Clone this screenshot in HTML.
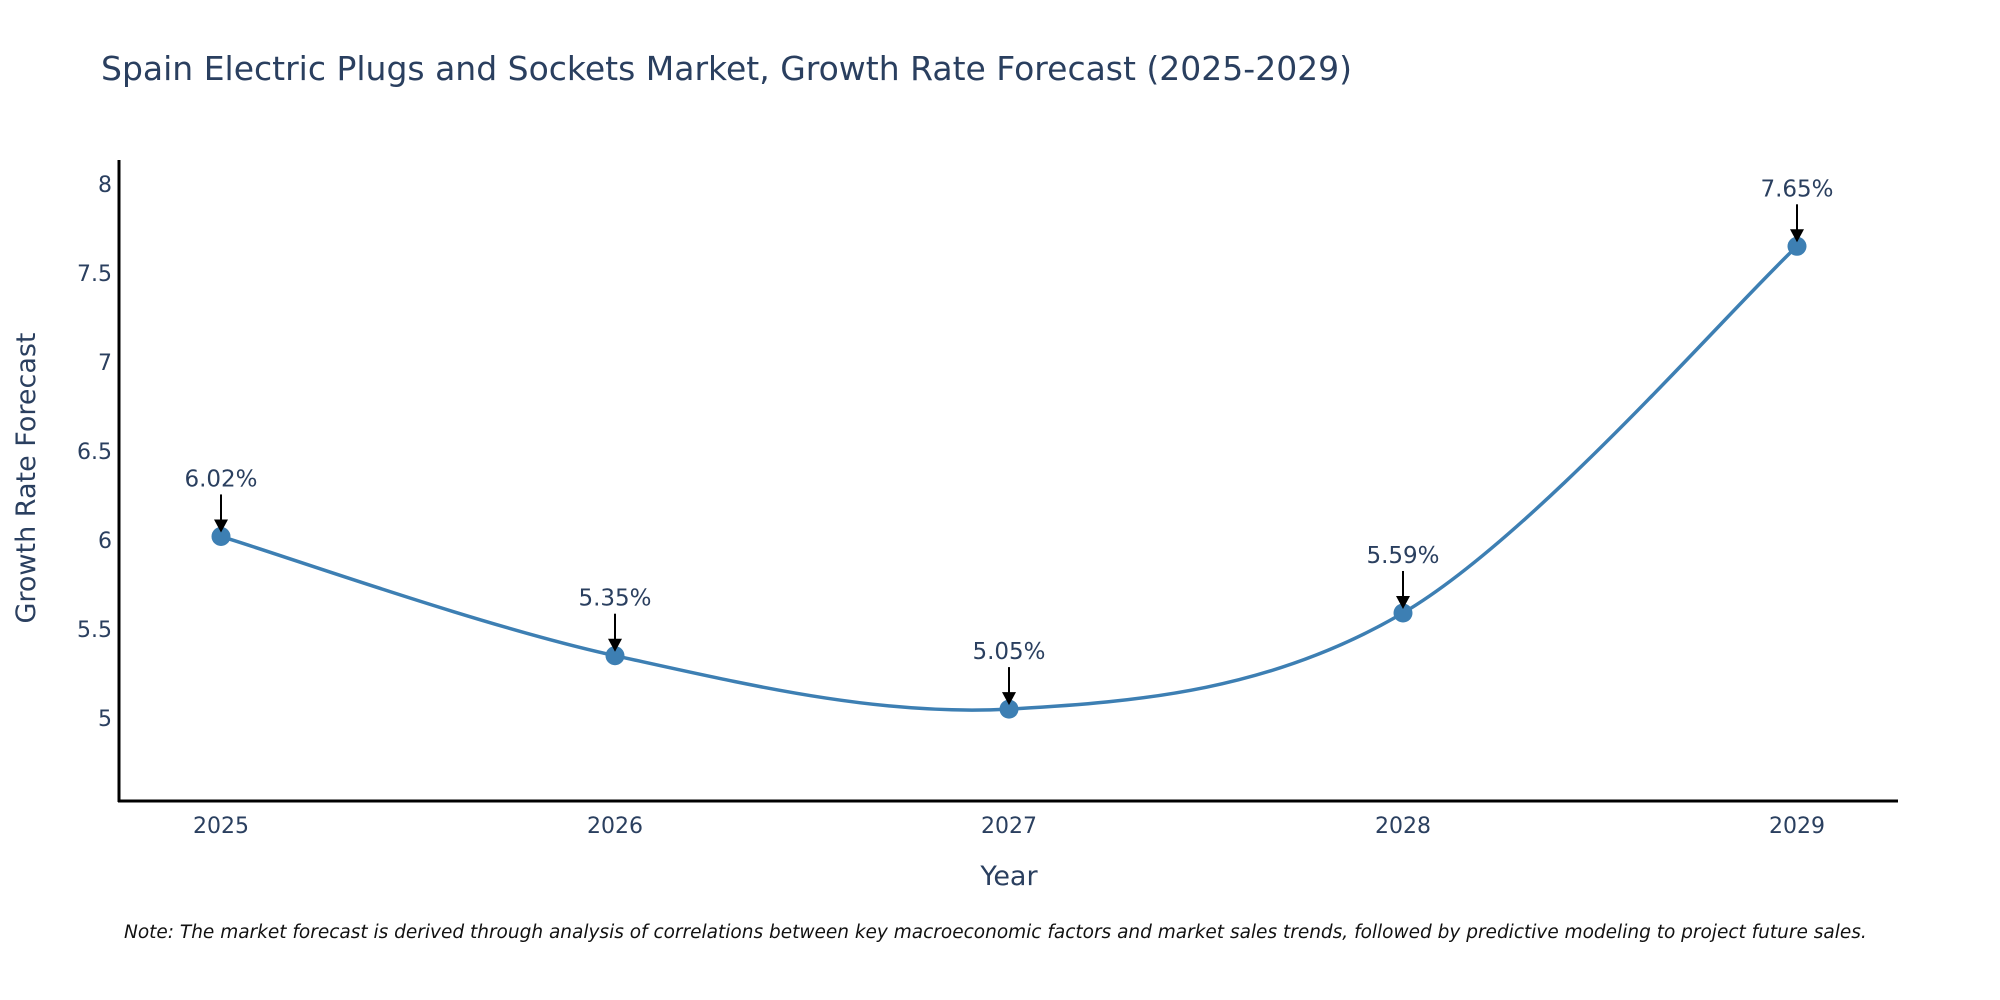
<!DOCTYPE html>
<html><head><meta charset="utf-8"><style>
body{margin:0;background:#fff;}
svg{display:block;font-family:"DejaVu Sans","Liberation Sans",sans-serif;}
</style></head><body>
<svg id="chart" width="2000" height="1000" viewBox="0 0 2000 1000">
<text x="101" y="80" font-size="33" fill="#2a3f5f">Spain Electric Plugs and Sockets Market, Growth Rate Forecast (2025-2029)</text>
<text transform="translate(35,478) rotate(-90)" text-anchor="middle" font-size="27" fill="#2a3f5f">Growth Rate Forecast</text>
<text x="1009" y="885" text-anchor="middle" font-size="27" fill="#2a3f5f">Year</text>
<text x="124" y="938" font-size="18.5" font-style="italic" fill="#111">Note: The market forecast is derived through analysis of correlations between key macroeconomic factors and market sales trends, followed by predictive modeling to project future sales.</text>
<g id="yticks"></g><g id="xticks"></g><g id="series"></g>
<line x1="119" y1="160" x2="119" y2="802" stroke="#000" stroke-width="3"/>
<line x1="118" y1="801" x2="1898" y2="801" stroke="#000" stroke-width="3"/>
</svg>
<script>
const categories = ["2025","2026","2027","2028","2029"];
const values = [6.02, 5.35, 5.05, 5.59, 7.65];
const yTickValues = [5, 5.5, 6, 6.5, 7, 7.5, 8];
const yTickLabels = ["5","5.5","6","6.5","7","7.5","8"];

const NS="http://www.w3.org/2000/svg";
const xPos = i => 221 + i*394;
const yPos = v => 718 - (v-5)*178;
function mk(tag, attrs, parent){const e=document.createElementNS(NS,tag);for(const k in attrs)e.setAttribute(k,attrs[k]);parent.appendChild(e);return e;}
const yt=document.getElementById('yticks'), xt=document.getElementById('xticks'), se=document.getElementById('series');
yTickValues.forEach((v,i)=>{
  const t=mk('text',{x:112,y:yPos(v)+8,'text-anchor':'end','font-size':22,fill:'#2a3f5f'},yt);
  t.textContent=yTickLabels[i];
  
  
});
categories.forEach((c,i)=>{
  const t=mk('text',{x:xPos(i),y:833,'text-anchor':'middle','font-size':22,fill:'#2a3f5f'},xt);
  t.textContent=c;
  
  
});
const pts=values.map((v,i)=>[xPos(i),yPos(v)]);
let d=`M${pts[0][0]},${pts[0][1]}`;
const s=1/6;
for(let i=0;i<pts.length-1;i++){
  const p0=pts[Math.max(i-1,0)],p1=pts[i],p2=pts[i+1],p3=pts[Math.min(i+2,pts.length-1)];
  const c1=[p1[0]+(p2[0]-p0[0])*s,p1[1]+(p2[1]-p0[1])*s];
  const c2=[p2[0]-(p3[0]-p1[0])*s,p2[1]-(p3[1]-p1[1])*s];
  d+=` C${c1[0]},${c1[1]} ${c2[0]},${c2[1]} ${p2[0]},${p2[1]}`;
}
const path=mk('path',{d:d,fill:'none',stroke:'#3d7fb3','stroke-width':3.5},se);


pts.forEach((p,i)=>{
  const c=mk('circle',{cx:p[0],cy:p[1],r:9.5,fill:'#3d7fb3'},se);
  
  
  const l=mk('line',{x1:p[0],y1:p[1]-42,x2:p[0],y2:p[1]-14,stroke:'#000','stroke-width':2},se);
  
  
  const h=mk('polygon',{points:`${p[0]-7},${p[1]-17} ${p[0]+7},${p[1]-17} ${p[0]},${p[1]-4}`,fill:'#000'},se);
  
  
  const t=mk('text',{x:p[0],y:p[1]-50,'text-anchor':'middle','font-size':23,fill:'#2a3f5f'},se);
  t.textContent=values[i].toFixed(2)+'%';
  
  
});
</script>
</body></html>
